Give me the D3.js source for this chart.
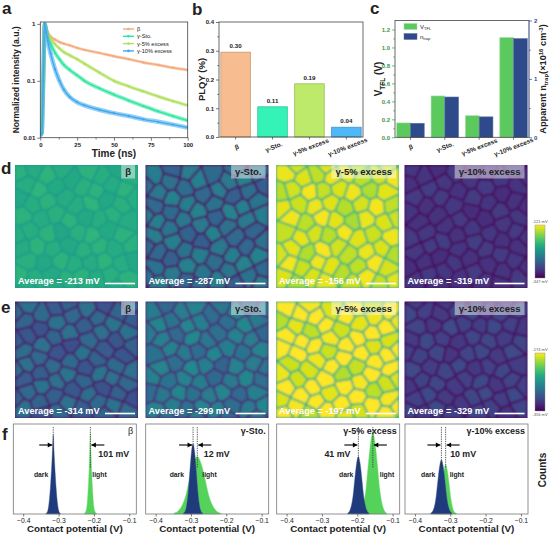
<!DOCTYPE html>
<html><head><meta charset="utf-8">
<script src="https://cdn.jsdelivr.net/npm/d3@7"></script>
<style>body{margin:0;background:#fff}svg{display:block;font-family:"Liberation Sans",Arial,Helvetica,sans-serif}</style>
</head><body><svg id="fig" width="550" height="535"></svg>
<script>
// ---------------- DATA ----------------
const sampleNames = ["β", "γ-Sto.", "γ-5% excess", "γ-10% excess"];
// a: TRPL decay (normalized intensity)
const decayTimes = [0, 1, 2, 3, 4, 5, 7, 10, 13, 16, 20, 25, 30, 40, 50, 60, 70, 80, 90, 100];
const decayBeta  = [0.012, 0.015, 0.09, 1.0, 0.85, 0.72, 0.60, 0.53, 0.48, 0.45, 0.42, 0.38, 0.35, 0.31, 0.27, 0.24, 0.21, 0.19, 0.17, 0.155];
const decaySto   = [0.011, 0.012, 0.10, 1.0, 0.78, 0.62, 0.45, 0.31, 0.24, 0.19, 0.155, 0.125, 0.10, 0.074, 0.057, 0.045, 0.036, 0.029, 0.024, 0.020];
const decay5     = [0.012, 0.013, 0.10, 1.0, 0.80, 0.68, 0.55, 0.44, 0.37, 0.32, 0.28, 0.24, 0.20, 0.14, 0.10, 0.080, 0.065, 0.053, 0.044, 0.037];
const decay10    = [0.011, 0.012, 0.10, 1.0, 0.70, 0.50, 0.30, 0.16, 0.10, 0.07, 0.052, 0.042, 0.037, 0.031, 0.027, 0.024, 0.021, 0.019, 0.017, 0.015];
const decayTicksX = [0, 25, 50, 75, 100];
const decayTicksY = [0.01, 0.1, 1];
// b: PLQY
const plqyValues = [0.295, 0.105, 0.185, 0.034];
const plqyLabels = ["0.30", "0.11", "0.19", "0.04"];
const plqyTicks = [0, 0.1, 0.2, 0.3, 0.4];
// c: SCLC
const vtflValues  = [0.16, 0.46, 0.24, 1.11];
const ntrapValues = [0.24, 0.69, 0.35, 1.69];
const vtflTicks = [0, 0.2, 0.4, 0.6, 0.8, 1.0, 1.2];
const ntrapTicks = [0, 1, 2];
// d, e: KPFM maps
const mapAverageD = [-213, -287, -156, -319];
const mapAverageE = [-314, -299, -197, -329];
const colorRangeD = [-347, -121];
const colorRangeE = [-356, -174];
// grain layout (relative positions, %) and relative grain potential offsets
const grainSeeds = [[4,6],[15,3],[27,9],[38,4],[47,12],[60,5],[71,10],[84,3],[94,9],
[9,16],[20,21],[33,18],[55,17],[66,22],[78,16],[90,20],
[3,27],[14,33],[26,29],[41,27],[50,34],[62,31],[74,28],[86,33],[97,26],
[7,41],[21,44],[33,40],[44,46],[57,42],[69,45],[80,40],[92,46],
[12,53],[27,56],[38,54],[51,55],[63,58],[75,52],[88,57],[2,58],
[6,67],[18,66],[31,69],[44,65],[56,70],[68,66],[81,69],[95,65],
[11,78],[24,80],[37,77],[49,81],[61,79],[73,78],[86,80],[97,77],
[4,90],[16,92],[29,89],[42,94],[54,90],[66,93],[78,89],[90,94],
[10,99],[35,99],[60,99],[85,99]];
const grainOffsets = [0.6,-0.2,0.9,0.1,-0.5,0.7,0.3,-0.8,0.4,
0.2,1.0,-0.4,0.5,0.8,-0.1,0.9,
-0.6,0.3,0.7,-0.3,0.1,1.0,-0.7,0.5,0.2,
0.8,-0.1,0.4,0.9,-0.5,0.2,0.6,-0.2,
0.3,0.7,-0.9,0.5,1.0,-0.4,0.8,0.1,
-0.3,0.9,0.2,-0.6,0.4,0.7,-0.1,0.6,
0.5,-0.7,0.8,0.3,-0.2,0.9,0.1,-0.5,
0.9,0.2,-0.4,0.6,0.8,-0.3,0.4,0.7,
0.3,-0.2,0.6,0.1];
// f: contact potential histograms [V, normalized counts]
const histDark = [
 [[-0.336,0],[-0.331,0.03],[-0.327,0.12],[-0.323,0.3],[-0.319,0.56],[-0.317,0.72],[-0.315,0.88],[-0.313,0.72],[-0.311,0.56],[-0.307,0.3],[-0.303,0.12],[-0.299,0.03],[-0.294,0]],
 [[-0.321,0.01],[-0.3165,0.03],[-0.312,0.1],[-0.3075,0.25],[-0.303,0.48],[-0.2985,0.69],[-0.294,0.78],[-0.2895,0.69],[-0.285,0.48],[-0.2805,0.25],[-0.276,0.1],[-0.2715,0.03],[-0.267,0.01]],
 [[-0.227,0.01],[-0.222,0.03],[-0.217,0.09],[-0.212,0.2],[-0.207,0.39],[-0.202,0.56],[-0.197,0.64],[-0.192,0.56],[-0.187,0.39],[-0.182,0.2],[-0.177,0.09],[-0.172,0.03],[-0.167,0.01]],
 [[-0.355,0.01],[-0.35,0.03],[-0.345,0.08],[-0.34,0.19],[-0.335,0.37],[-0.33,0.53],[-0.325,0.6],[-0.32,0.53],[-0.315,0.37],[-0.31,0.19],[-0.305,0.08],[-0.3,0.03],[-0.295,0.01]]
];
const histLight = [
 [[-0.228,0],[-0.223,0.03],[-0.219,0.12],[-0.216,0.3],[-0.213,0.56],[-0.2115,0.74],[-0.21,0.9],[-0.2085,0.74],[-0.207,0.56],[-0.204,0.3],[-0.201,0.12],[-0.197,0.03],[-0.192,0]],
 [[-0.348,0.01],[-0.337,0.03],[-0.326,0.09],[-0.315,0.2],[-0.304,0.39],[-0.293,0.56],[-0.282,0.64],[-0.271,0.56],[-0.26,0.39],[-0.249,0.2],[-0.238,0.09],[-0.227,0.03],[-0.216,0.01]],
 [[-0.195,0.01],[-0.1885,0.04],[-0.182,0.12],[-0.1755,0.28],[-0.169,0.55],[-0.1625,0.79],[-0.156,0.9],[-0.1495,0.79],[-0.143,0.55],[-0.1365,0.28],[-0.13,0.12],[-0.1235,0.04],[-0.117,0.01]],
 [[-0.343,0.01],[-0.338,0.02],[-0.333,0.07],[-0.328,0.17],[-0.323,0.33],[-0.318,0.48],[-0.313,0.55],[-0.308,0.48],[-0.303,0.33],[-0.298,0.17],[-0.293,0.07],[-0.288,0.02],[-0.283,0.01]]
];
const darkPeaks  = [-0.315, -0.294, -0.197, -0.325];
const lightPeaks = [-0.210, -0.282, -0.156, -0.313];
const shiftLabels = ["101 mV", "12 mV", "41 mV", "10 mV"];
const potentialTicks = [-0.4, -0.3, -0.2, -0.1];

// ---------------- STYLE / LAYOUT ----------------
const svg = d3.select("#fig");
const ink = "#222";
const curveColors = ["#f5a97c", "#2ee6a0", "#aee05c", "#3ea8ef"];
const barColors = ["#f7bc8f", "#35f3b6", "#bdea6b", "#4eb8f8"];
const greenC = "#5cc95f", navyC = "#2e4a8a";
const lightFill = "#55d25a", darkFill = "#203b7c";
const fmt1 = d3.format(".1f");

function txt(g, x, y, s, size, opts = {}) {
  const t = g.append("text").attr("x", x).attr("y", y).text(s)
    .attr("font-size", size).attr("fill", opts.fill || ink)
    .attr("font-weight", opts.weight || "bold")
    .attr("text-anchor", opts.anchor || "start");
  if (opts.rotate !== undefined) t.attr("transform", `rotate(${opts.rotate},${x},${y})`);
  return t;
}
function frame(x0, y0, x1, y1, col) {
  svg.append("rect").attr("x", x0).attr("y", y0).attr("width", x1 - x0).attr("height", y1 - y0)
    .attr("fill", "none").attr("stroke", col || "#444").attr("stroke-width", 0.8);
}
function styleAxis(g, size, col) {
  g.select(".domain").remove();
  g.selectAll("line").attr("stroke", col || "#444").attr("stroke-width", 0.7);
  g.selectAll("text").attr("font-size", size).attr("font-weight", "bold").attr("fill", col || ink)
    .attr("font-family", "'Liberation Sans',Arial,sans-serif");
}

// panel letters
[["a",2,14],["b",192,15],["c",370,14],["d",1,174],["e",1,313],["f",2,440]].forEach(([l,x,y]) =>
  txt(svg, x, y, l, 17, {}));

// ---------------- PANEL A ----------------
{
  const L = 40.3, R = 187.7, T = 22, B = 137.7;
  const x = d3.scaleLinear([0, 100], [L, R]);
  const y = d3.scaleLog([0.01, 1.08], [B, T]);
  const series = [decayBeta, decaySto, decay5, decay10];
  svg.append("clipPath").attr("id", "clipA").append("rect")
    .attr("x", L).attr("y", T).attr("width", R - L).attr("height", B - T);
  const g = svg.append("g").attr("clip-path", "url(#clipA)");
  const line = d3.line().x((d, i) => x(decayTimes[i])).y(d => y(d)).curve(d3.curveMonotoneX);
  const widths = [3, 4, 3.5, 4.5];
  series.forEach((s, k) => {
    g.append("path").attr("d", line(s)).attr("fill", "none").attr("stroke", curveColors[k])
      .attr("stroke-width", widths[k]).attr("opacity", 0.55);
    g.append("path").attr("d", line(s)).attr("fill", "none").attr("stroke", curveColors[k])
      .attr("stroke-width", 1.4);
    g.selectAll(null).data(s).enter().append("circle")
      .attr("cx", (d, i) => x(decayTimes[i])).attr("cy", d => y(d)).attr("r", 1.1)
      .attr("fill", curveColors[k]);
  });
  frame(L, T, R, B);
  const ax = svg.append("g").attr("transform", `translate(0,${B})`)
    .call(d3.axisBottom(x).tickValues(decayTicksX).tickSize(3).tickPadding(2).tickFormat(d3.format("d")));
  styleAxis(ax, 6);
  svg.append("g").attr("transform", `translate(0,${B})`)
    .call(d3.axisBottom(x).tickValues([12.5, 37.5, 62.5, 87.5]).tickSize(1.8).tickFormat(""))
    .call(g2 => styleAxis(g2, 6));
  const ay = svg.append("g").attr("transform", `translate(${L},0)`)
    .call(d3.axisLeft(y).tickValues(decayTicksY).tickSize(3).tickPadding(2).tickFormat(d => d >= 1 ? "1" : String(d)));
  styleAxis(ay, 6);
  txt(svg, (L + R) / 2, 157, "Time (ns)", 10, { anchor: "middle" });
  txt(svg, 19, (T + B) / 2, "Normalized intensity (a.u.)", 8.6, { anchor: "middle", rotate: -90 });
  // legend
  sampleNames.forEach((n, k) => {
    const ly = 29 + k * 7.3;
    svg.append("line").attr("x1", 123).attr("x2", 134).attr("y1", ly).attr("y2", ly)
      .attr("stroke", curveColors[k]).attr("stroke-width", 1.4);
    svg.append("circle").attr("cx", 128.5).attr("cy", ly).attr("r", 1.3).attr("fill", curveColors[k]);
    txt(svg, 137, ly + 2, n, 5.6, { weight: "normal" });
  });
}

// ---------------- PANEL B ----------------
{
  const L = 219, R = 363, T = 22, B = 137;
  const x = d3.scaleBand(sampleNames, [L, R]).paddingInner(0.2).paddingOuter(0.05);
  const y = d3.scaleLinear([0, 0.4], [B, T]);
  svg.append("g").selectAll("rect").data(plqyValues).enter().append("rect")
    .attr("x", (d, i) => x(sampleNames[i])).attr("width", x.bandwidth())
    .attr("y", d => y(d)).attr("height", d => B - y(d))
    .attr("fill", (d, i) => barColors[i]).attr("stroke", (d, i) => d3.color(barColors[i]).darker(0.6))
    .attr("stroke-width", 0.8);
  plqyValues.forEach((v, i) => txt(svg, x(sampleNames[i]) + x.bandwidth() / 2, y(v) - 4, plqyLabels[i], 6.2, { anchor: "middle" }));
  frame(L, T, R, B);
  const ay = svg.append("g").attr("transform", `translate(${L},0)`)
    .call(d3.axisLeft(y).tickValues(plqyTicks).tickSize(3).tickPadding(2).tickFormat(fmt1));
  styleAxis(ay, 6);
  svg.append("g").attr("transform", `translate(${L},0)`)
    .call(d3.axisLeft(y).tickValues([0.05, 0.15, 0.25, 0.35]).tickSize(1.8).tickFormat(""))
    .call(g2 => styleAxis(g2, 6));
  const ax = svg.append("g").attr("transform", `translate(0,${B})`)
    .call(d3.axisBottom(x).tickSize(2.5).tickFormat(""));
  styleAxis(ax, 6);
  sampleNames.forEach(n => txt(svg, x(n) + x.bandwidth() / 2 + 2, 149, n, 6.4, { anchor: "middle", rotate: -21 }));
  txt(svg, 205, (T + B) / 2, "PLQY (%)", 9.5, { anchor: "middle", rotate: -90 });
}

// ---------------- PANEL C ----------------
{
  const L = 395, R = 529, T = 20.5, B = 137.3;
  const x = d3.scaleBand(sampleNames, [L, R]).paddingInner(0.2).paddingOuter(0.05);
  const xs = d3.scaleBand([0, 1], [0, x.bandwidth()]);
  const yl = d3.scaleLinear([0, 1.3], [B, T]);
  const yr = d3.scaleLinear([0, 2], [B, T]);
  vtflValues.forEach((v, i) => svg.append("rect").attr("x", x(sampleNames[i]) + xs(0)).attr("width", xs.bandwidth())
    .attr("y", yl(v)).attr("height", B - yl(v)).attr("fill", greenC).attr("stroke", "#9fdfa0").attr("stroke-width", 0.6));
  ntrapValues.forEach((v, i) => svg.append("rect").attr("x", x(sampleNames[i]) + xs(1)).attr("width", xs.bandwidth())
    .attr("y", yr(v)).attr("height", B - yr(v)).attr("fill", navyC).attr("stroke", "#5a6fa5").attr("stroke-width", 0.6));
  frame(L, T, R, B);
  svg.append("line").attr("x1", R).attr("x2", R).attr("y1", T).attr("y2", B).attr("stroke", "#7a86b8").attr("stroke-width", 1);
  const ay = svg.append("g").attr("transform", `translate(${L},0)`)
    .call(d3.axisLeft(yl).tickValues(vtflTicks).tickSize(3).tickPadding(2).tickFormat(fmt1));
  styleAxis(ay, 6, "#3a9a3e");
  svg.append("g").attr("transform", `translate(${L},0)`)
    .call(d3.axisLeft(yl).tickValues([0.1, 0.3, 0.5, 0.7, 0.9, 1.1]).tickSize(1.8).tickFormat(""))
    .call(g2 => styleAxis(g2, 6, "#3a9a3e"));
  const ar = svg.append("g").attr("transform", `translate(${R},0)`)
    .call(d3.axisRight(yr).tickValues(ntrapTicks).tickSize(3).tickPadding(2).tickFormat(d3.format("d")));
  styleAxis(ar, 6, navyC);
  svg.append("g").attr("transform", `translate(${R},0)`)
    .call(d3.axisRight(yr).tickValues([0.5, 1.5]).tickSize(1.8).tickFormat(""))
    .call(g2 => styleAxis(g2, 6, navyC));
  const ax = svg.append("g").attr("transform", `translate(0,${B})`)
    .call(d3.axisBottom(x).tickSize(2.5).tickFormat(""));
  styleAxis(ax, 6);
  sampleNames.forEach(n => txt(svg, x(n) + x.bandwidth() / 2 + 1, 149, n, 6.4, { anchor: "middle", rotate: -21 }));
  // legend
  svg.append("rect").attr("x", 404).attr("y", 23.5).attr("width", 13).attr("height", 6).attr("fill", greenC).attr("stroke", "#9fdfa0").attr("stroke-width", 0.5);
  svg.append("rect").attr("x", 404).attr("y", 33.5).attr("width", 13).attr("height", 6).attr("fill", navyC).attr("stroke", "#5a6fa5").attr("stroke-width", 0.5);
  const l1 = txt(svg, 420, 29, "V", 6, { weight: "normal" });
  l1.append("tspan").attr("font-size", 4).attr("dy", 1.2).text("TFL");
  const l2 = txt(svg, 420, 39, "n", 6, { weight: "normal" });
  l2.append("tspan").attr("font-size", 4).attr("dy", 1.2).text("trap");
  // axis titles
  const vt = txt(svg, 382, 79, "V", 10, { anchor: "middle", rotate: -90 });
  vt.append("tspan").attr("font-size", 6.5).attr("dy", 2.5).text("TFL");
  vt.append("tspan").attr("dy", -2.5).text(" (V)");
  const nt = txt(svg, 546, 79, "Apparent n", 9.2, { anchor: "middle", rotate: -90 });
  nt.append("tspan").attr("font-size", 6).attr("dy", 2.2).text("trap");
  nt.append("tspan").attr("dy", -2.2).text("(×10");
  nt.append("tspan").attr("font-size", 6).attr("dy", -3.2).text("16");
  nt.append("tspan").attr("dy", 3.2).text(" cm");
  nt.append("tspan").attr("font-size", 6).attr("dy", -3.2).text("-3");
  nt.append("tspan").attr("dy", 3.2).text(")");
}

// ---------------- PANELS D, E (KPFM maps) ----------------
const defs = svg.append("defs");
defs.append("filter").attr("id", "soft").attr("x", "-5%").attr("y", "-5%").attr("width", "110%").attr("height", "110%")
  .append("feGaussianBlur").attr("stdDeviation", 0.8);
const voronoi = d3.Delaunay.from(grainSeeds).voronoi([0, 0, 100, 100]);
const colX = [15, 145.5, 276, 404.5], mapW = 123;
const symmetry = [[0, 1], [90, -1], [180, 1], [270, -1], [90, 1], [0, -1], [270, 1], [180, -1]];
// style: grain lift, grain spread, boundary drop, boundary width (mV / px)
const styleD = [[6, 7, -14, 1.3], [22, 18, -50, 1.8], [18, 14, -45, 1.7], [6, 6, -24, 1.7]];
const styleE = [[14, 14, -32, 1.7], [14, 14, -36, 1.7], [17, 17, -45, 1.7], [7, 7, -22, 1.8]];

function drawMap(idx, x0, y0, h, avg, range, st, symIdx, label) {
  const norm = d3.scaleLinear(range, [0, 1]).clamp(true);
  const col = v => d3.interpolateViridis(norm(v));
  const id = "clipM" + idx;
  defs.append("clipPath").attr("id", id).append("rect").attr("x", x0).attr("y", y0).attr("width", mapW).attr("height", h);
  const outer = svg.append("g").attr("clip-path", `url(#${id})`);
  outer.append("rect").attr("x", x0).attr("y", y0).attr("width", mapW).attr("height", h).attr("fill", col(avg + st[2] * 0.5));
  const blur = outer.append("g").attr("filter", "url(#soft)");
  const [rot, fx] = symmetry[symIdx];
  const inner = blur.append("g").attr("transform",
    `translate(${x0},${y0}) scale(${mapW / 100},${h / 100}) translate(50,50) rotate(${rot}) scale(${fx},1) translate(-50,-50)`);
  grainSeeds.forEach((p, i) => {
    inner.append("path").attr("d", voronoi.renderCell(i))
      .attr("fill", col(avg + st[0] + st[1] * grainOffsets[i]))
      .attr("stroke", col(avg + st[2])).attr("stroke-width", st[3])
      .attr("stroke-linejoin", "round").attr("vector-effect", "non-scaling-stroke");
  });
  // label box (top-right)
  const lt = txt(svg, 0, 0, label, 9.5, { anchor: "middle" });
  const tw = lt.node().getComputedTextLength();
  const bw = tw + 8, bx = x0 + mapW - 3 - bw;
  svg.insert("rect", () => lt.node()).attr("x", bx).attr("y", y0).attr("width", bw).attr("height", 13.5)
    .attr("fill", "#fff").attr("opacity", 0.45);
  lt.attr("x", bx + bw / 2).attr("y", y0 + 10);
  // average text & scale bar
  txt(svg, x0 + 3, y0 + h - 4, `Average = ${avg} mV`, 9.2, { fill: "#fff" });
  svg.append("line").attr("x1", x0 + 90).attr("x2", x0 + 120).attr("y1", y0 + h - 4.5).attr("y2", y0 + h - 4.5)
    .attr("stroke", "#fff").attr("stroke-width", 1.6);
}
mapAverageD.forEach((a, i) => drawMap(i, colX[i], 165, 123, a, colorRangeD, styleD[i], i, sampleNames[i]));
mapAverageE.forEach((a, i) => drawMap(4 + i, colX[i], 301.5, 116.5, a, colorRangeE, styleE[i], 4 + i, sampleNames[i]));

function colorbar(id, x, y0, y1, range) {
  const grad = defs.append("linearGradient").attr("id", id).attr("x1", 0).attr("x2", 0).attr("y1", 1).attr("y2", 0);
  d3.range(0, 1.0001, 0.1).forEach(t => grad.append("stop").attr("offset", t).attr("stop-color", d3.interpolateViridis(t)));
  svg.append("rect").attr("x", x).attr("y", y0).attr("width", 10).attr("height", y1 - y0).attr("fill", `url(#${id})`)
    .attr("stroke", "#888").attr("stroke-width", 0.4);
  txt(svg, x + 5, y0 - 2, `${range[1]} mV`, 4, { anchor: "middle", weight: "normal", fill: "#555" });
  txt(svg, x + 5, y1 + 5, `${range[0]} mV`, 4, { anchor: "middle", weight: "normal", fill: "#555" });
}
colorbar("cbD", 535, 225, 278, colorRangeD);
colorbar("cbE", 535, 353, 411, colorRangeE);

// ---------------- PANEL F ----------------
{
  const T = 424, B = 514;
  const fColX = [13.3, 145.7, 276.7, 405];
  const y = d3.scaleLinear([0, 1], [B, T]);
  const textPos = [[8, "start"], [6.5, "start"], [-8, "end"], [4.5, "start"]];
  const darkLab = [[-5, "end"], [-9, "end"], [-5, "end"], [-6, "end"]];
  const lightLab = [[2, "start"], [5, "start"], [7, "start"], [4, "start"]];
  sampleNames.forEach((n, k) => {
    const L = fColX[k], R = L + 123;
    const x = d3.scaleLinear([-0.428, -0.08], [L, R]);
    const area = d3.area().x(d => x(d[0])).y0(B).y1(d => y(d[1])).curve(d3.curveMonotoneX);
    svg.append("path").attr("d", area(histLight[k])).attr("fill", lightFill).attr("stroke", "#7ee07f").attr("stroke-width", 0.4);
    svg.append("path").attr("d", area(histDark[k])).attr("fill", darkFill).attr("stroke", "#3d5592").attr("stroke-width", 0.4);
    const dx = x(darkPeaks[k]), lx = x(lightPeaks[k]);
    [dx, lx].forEach(px => svg.append("line").attr("x1", px).attr("x2", px).attr("y1", 427).attr("y2", 468)
      .attr("stroke", "#333").attr("stroke-width", 0.8).attr("stroke-dasharray", "1.3,1"));
    // arrows
    const ay = 445;
    const arrow = (x1, x2) => {
      svg.append("line").attr("x1", x1).attr("x2", x2).attr("y1", ay).attr("y2", ay).attr("stroke", "#000").attr("stroke-width", 1.1);
      const s = Math.sign(x2 - x1);
      svg.append("path").attr("d", `M${x2},${ay} L${x2 - s * 4.5},${ay - 2.6} L${x2 - s * 4.5},${ay + 2.6} Z`).attr("fill", "#000");
    };
    arrow(dx - 14, dx - 1);
    arrow(lx + 14, lx + 1);
    const tp = textPos[k];
    txt(svg, (tp[1] === "end" ? dx : lx) + tp[0], 457, shiftLabels[k], 8.8, { anchor: tp[1] });
    txt(svg, dx + darkLab[k][0], 477, "dark", 6.8, { anchor: darkLab[k][1] });
    txt(svg, lx + lightLab[k][0], 477, "light", 6.8, { anchor: lightLab[k][1] });
    txt(svg, R - 3, 434, n, 9, { anchor: "end", weight: k === 0 ? "normal" : "bold" });
    frame(L, T, R, B, "#777");
    const ax = svg.append("g").attr("transform", `translate(0,${B})`)
      .call(d3.axisBottom(x).tickValues(potentialTicks).tickSize(2.5).tickPadding(1.5).tickFormat(d => "−" + fmt1(-d)));
    styleAxis(ax, 6.8);
    ax.selectAll("text").attr("font-weight", "normal");
    txt(svg, (L + R) / 2, 531.5, "Contact potential (V)", 9.8, { anchor: "middle" });
  });
  txt(svg, 546, 470, "Counts", 10, { anchor: "middle", rotate: -90 });
}
</script></body></html>
